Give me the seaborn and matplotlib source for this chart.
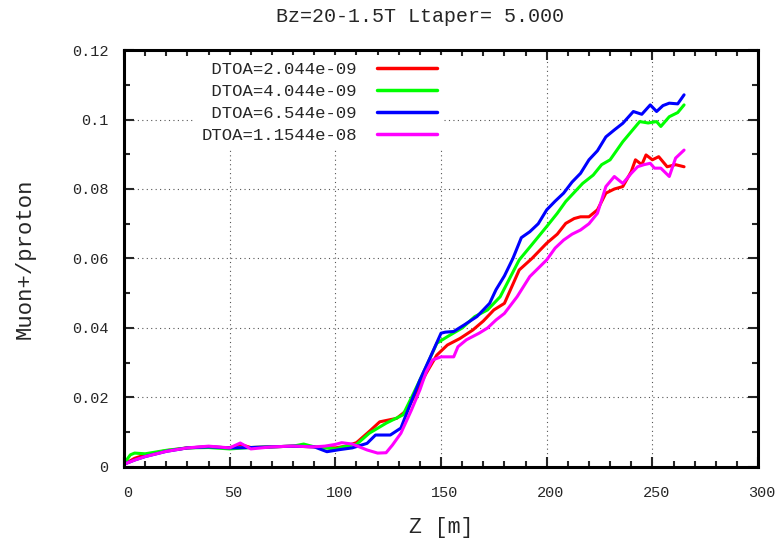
import numpy as np
import matplotlib
matplotlib.use("Agg")
import matplotlib.pyplot as plt
import matplotlib.transforms as mtransforms
import seaborn as sns
from matplotlib.ticker import MultipleLocator, FormatStrFormatter

# values
z_red = [0, 5, 10, 20, 30, 40, 50, 55, 60, 70, 80, 90, 100, 105, 110, 116, 121, 125, 129, 134,
         138, 143, 148, 153, 159, 165, 170, 175, 180, 187, 193, 200, 205, 209, 213, 216, 220,
         224, 228, 232, 236, 240, 242, 245, 247, 250, 253, 257, 261, 265]
mu_red = [0.0008, 0.0025, 0.0035, 0.0047, 0.0055, 0.0058, 0.0055, 0.0065, 0.0056, 0.0058,
          0.006, 0.0058, 0.0055, 0.006, 0.007, 0.0102, 0.013, 0.0135, 0.014, 0.0164,
          0.0212, 0.027, 0.0322, 0.0351, 0.037, 0.0394, 0.042, 0.0452, 0.0471, 0.0567,
          0.060, 0.0644, 0.067, 0.0701, 0.0715, 0.072, 0.072, 0.074, 0.0788, 0.080,
          0.0807, 0.085, 0.0884, 0.087, 0.0898, 0.0884, 0.0893, 0.0864, 0.087, 0.0864]

z_green = [0, 3, 5, 10, 20, 30, 40, 50, 60, 70, 80, 85, 90, 100, 105, 110, 116, 124, 132, 137,
           143, 148, 153, 160, 166, 172, 178, 187, 193, 200, 205, 209, 213, 217, 222, 226, 230,
           236, 240, 244, 248, 252, 254, 258, 262, 265]
mu_green = [0.001, 0.0035, 0.004, 0.0038, 0.0048, 0.0055, 0.0056, 0.0052, 0.0056, 0.0058,
            0.006, 0.0066, 0.0058, 0.0052, 0.006, 0.0065, 0.0097, 0.0126, 0.015, 0.0212,
            0.0289, 0.0356, 0.0375, 0.040, 0.0433, 0.0452, 0.049, 0.0596, 0.064, 0.0692,
            0.073, 0.0764, 0.079, 0.0816, 0.084, 0.087, 0.0884, 0.0936, 0.0965, 0.0994,
            0.099, 0.0994, 0.098, 0.1008, 0.102, 0.1042]

z_blue = [0, 5, 10, 20, 30, 40, 50, 60, 70, 80, 90, 96, 102, 108, 115, 119, 126, 131, 135, 140,
          145, 150, 152, 156, 161, 167, 173, 176, 180, 184, 188, 192, 196, 200, 204, 208, 212,
          216, 220, 224, 228, 232, 236, 241, 245, 249, 252, 255, 258, 262, 265]
mu_blue = [0.0008, 0.002, 0.003, 0.0045, 0.0055, 0.0058, 0.0055, 0.0056, 0.0058, 0.006,
           0.0058, 0.0044, 0.005, 0.0055, 0.0068, 0.0092, 0.0092, 0.0112, 0.0174, 0.025,
           0.0317, 0.0385, 0.0388, 0.039, 0.0409, 0.0433, 0.0471, 0.051, 0.055, 0.060,
           0.066, 0.0677, 0.070, 0.074, 0.0765, 0.0788, 0.082, 0.0845, 0.0884, 0.091,
           0.095, 0.097, 0.0989, 0.1023, 0.1015, 0.1042, 0.1023, 0.104, 0.1047, 0.1045, 0.1071]

z_pink = [0, 5, 10, 20, 30, 40, 50, 55, 60, 70, 80, 90, 95, 100, 103, 108, 115, 120, 124, 127,
          131, 136, 140, 143, 146, 150, 156, 158, 162, 168, 172, 176, 180, 186, 192, 200, 204,
          208, 212, 216, 220, 224, 228, 232, 236, 240, 243, 246, 249, 251, 254, 258, 261, 265]
mu_pink = [0.0008, 0.002, 0.003, 0.0045, 0.0055, 0.006, 0.0055, 0.0069, 0.0052, 0.0058,
           0.006, 0.0058, 0.006, 0.0065, 0.007, 0.0066, 0.0049, 0.004, 0.0041, 0.0063,
           0.0097, 0.0164, 0.0222, 0.0274, 0.0308, 0.0317, 0.0317, 0.0346, 0.0366, 0.0385,
           0.040, 0.0423, 0.0442, 0.049, 0.0548, 0.0596, 0.063, 0.0653, 0.067, 0.0682,
           0.070, 0.073, 0.0807, 0.0836, 0.0816, 0.0845, 0.0864, 0.087, 0.0874, 0.086,
           0.086, 0.0836, 0.0889, 0.0912]

labels = [" DTOA=2.044e-09", " DTOA=4.044e-09", " DTOA=6.544e-09", "DTOA=1.1544e-08"]
colors = ["#ff0000", "#00ff00", "#0000ff", "#ff00ff"]

sns.set_style("ticks")
plt.rcParams["font.family"] = ["Liberation Mono", "DejaVu Sans Mono"]

fig = plt.figure(figsize=(7.81, 5.4), dpi=100)
ax = fig.add_axes([0.1588, 0.1352, 0.8118, 0.7722])

series = [(z_red, mu_red), (z_green, mu_green), (z_blue, mu_blue), (z_pink, mu_pink)]
for (z, mu), lab, col in zip(series, labels, colors):
    sns.lineplot(x=z, y=mu, ax=ax, color=col, linewidth=2.2, label=lab, sort=False)

ax.set_xlim(0, 300)
ax.set_ylim(0, 0.12)
ax.xaxis.set_major_locator(MultipleLocator(50))
ax.xaxis.set_minor_locator(MultipleLocator(10))
ax.yaxis.set_major_locator(MultipleLocator(0.02))
ax.yaxis.set_minor_locator(MultipleLocator(0.01))
ax.yaxis.set_major_formatter(FormatStrFormatter("%g"))

ax.grid(True, which="major", linestyle=(0, (1, 3)), color="#555555", linewidth=0.8)
ax.tick_params(which="both", direction="in", top=True, right=True, width=1.5, labelsize=11)
ax.tick_params(which="major", length=7)
ax.tick_params(which="minor", length=4)
ax.tick_params(axis="x", which="major", pad=14)
ax.tick_params(axis="y", which="major", pad=11)
for sp in ax.spines.values():
    sp.set_linewidth(2.2)
    sp.set_color("black")

ax.set_xlabel("Z [m]", fontsize=15.5)
ax.xaxis.set_label_coords(0.5, -0.12)
ax.set_ylabel("Muon+/proton", fontsize=16)
ax.yaxis.set_label_coords(-0.140, 0.5)
fig.text(420 / 781, 1 - 17 / 540, "Bz=20-1.5T Ltaper= 5.000", fontsize=14.4,
         ha="center", va="center")

leg = ax.legend(loc="upper right", bbox_to_anchor=(0.505, 0.987), markerfirst=False,
                fontsize=12.4, handlelength=3.5, handletextpad=1.16, labelspacing=0.4,
                frameon=True, borderaxespad=0)
leg.get_frame().set_facecolor("white")
leg.get_frame().set_edgecolor("none")
leg.get_frame().set_alpha(1)
for line in leg.get_lines():
    line.set_linewidth(2.5)

# gnuplot puts the x tick labels a few pixels right of the tick
fig.canvas.draw()
shift = mtransforms.ScaledTranslation(4 / 100, 0, fig.dpi_scale_trans)
for tick in ax.xaxis.get_major_ticks():
    tick.label1.set_transform(tick.label1.get_transform() + shift)

fig.savefig("out.png", dpi=100)
